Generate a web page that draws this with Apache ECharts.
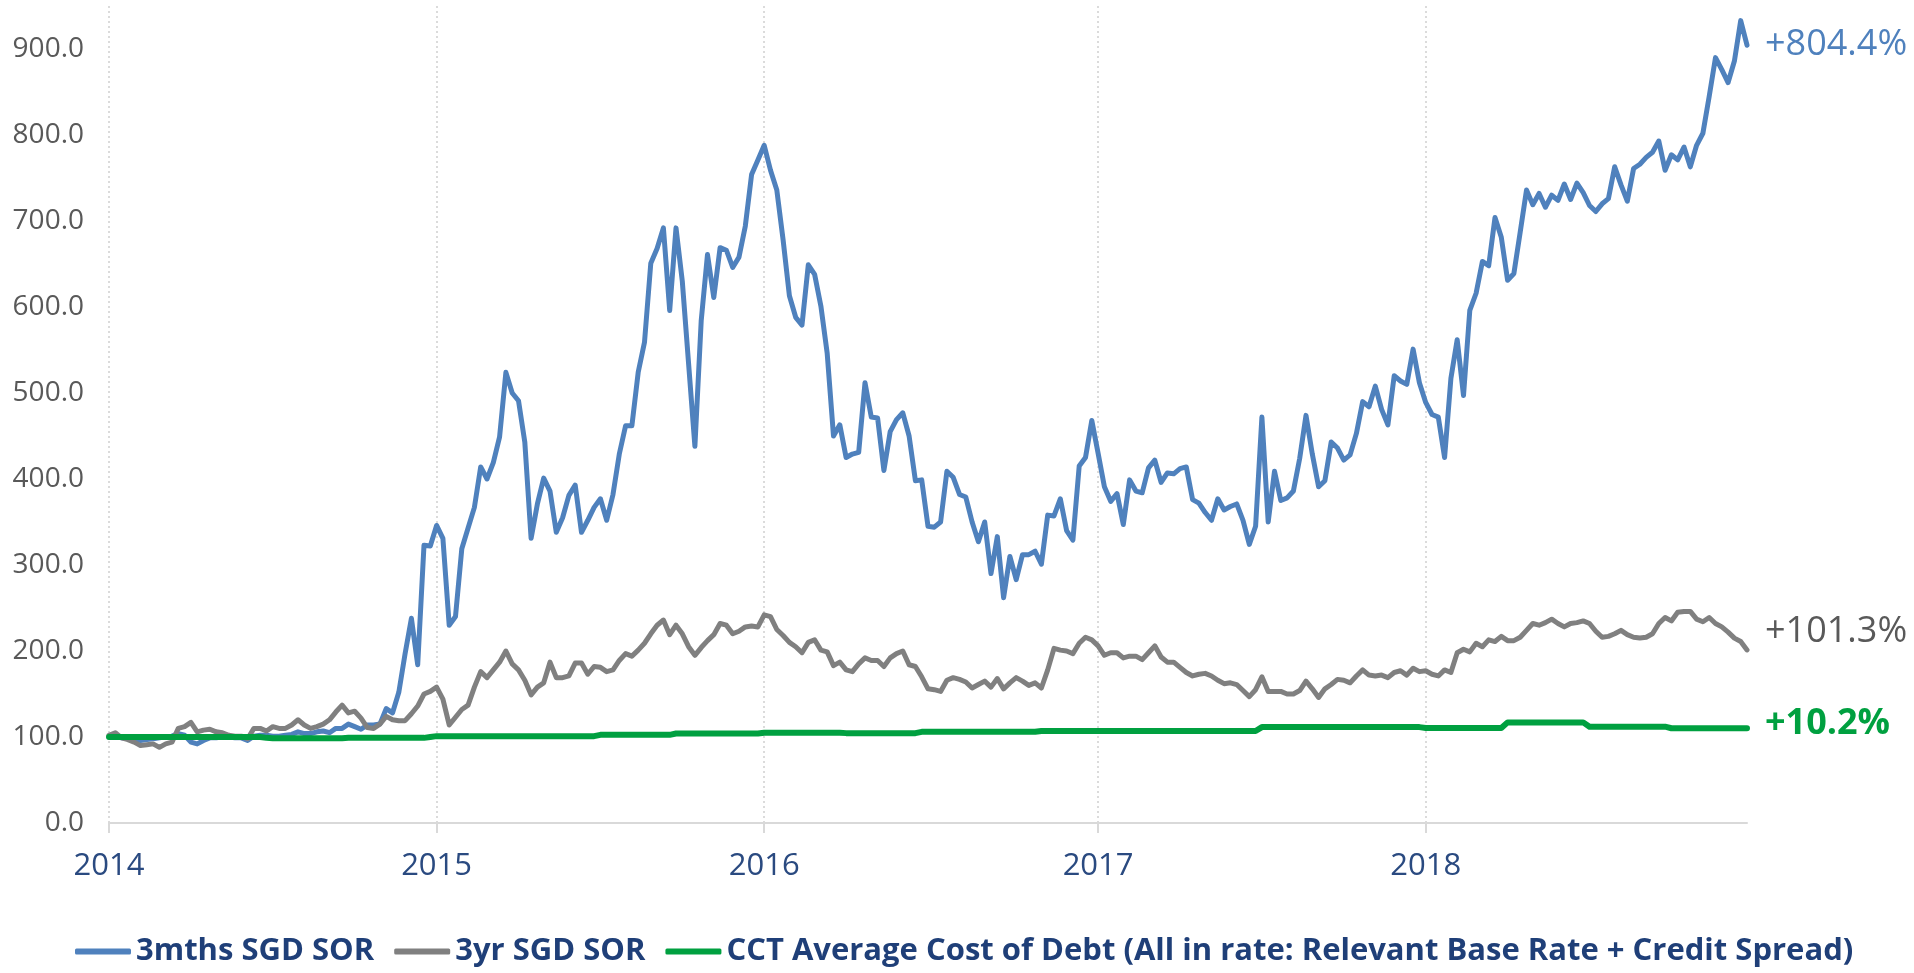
<!DOCTYPE html>
<html>
<head>
<meta charset="utf-8">
<script src="https://cdn.jsdelivr.net/npm/echarts@6/dist/echarts.min.js"></script>
<style>
  html, body { margin: 0; padding: 0; background: #ffffff; }
  #chart { width: 1914px; height: 973px; }
</style>
</head>
<body>
<div id="chart"></div>
<script>
// Weekly observations (Fridays) from 2014-01-03 to 2018-12-28, indexed to 100 at start
const startDate = '2014-01-03';
const yearLabels = ['2014', '2015', '2016', '2017', '2018'];
const seriesNames = ['3mths SGD SOR', '3yr SGD SOR', 'CCT Average Cost of Debt (All in rate: Relevant Base Rate + Credit Spread)'];
const endLabels = ['+804.4%', '+101.3%', '+10.2%'];

const sor3m = [
  100,101,99,98,97,96,97,98,99,100,
  101,104,102,94,92,96,99,99,100,100,
  99,99,96,101,102,102,101,101,102,103,
  106,104,104,106,107,105,110,110,115,112,
  109,114,114,115,133,128,152,197,238,184,
  323,322,
  346,331,230,240,319,343,367,414,400,419,
  449,524,500,491,443,331,371,401,386,338,
  355,381,393,338,352,367,377,352,382,429,
  462,462,524,559,651,668,692,596,692,630,
  534,438,584,661,611,669,666,646,658,694,
  754,771,
  788,759,736,678,613,588,579,649,638,601,
  546,450,463,425,429,431,512,472,471,410,
  455,469,477,450,398,399,345,344,350,409,
  402,382,379,350,327,350,290,333,262,310,
  283,312,312,316,301,358,357,377,340,329,
  415,425,468,
  430,391,374,383,347,399,386,384,413,422,
  396,407,406,412,414,376,372,361,352,377,
  364,368,371,352,324,345,472,350,409,375,
  378,386,424,474,429,391,398,443,436,422,
  428,453,490,484,508,481,463,520,514,510,
  551,512,
  489,475,472,425,517,562,497,596,616,653,
  648,704,681,631,639,687,736,719,732,716,
  730,724,743,725,744,733,718,711,720,726,
  763,742,723,761,766,774,780,793,759,777,
  771,786,763,788,802,845,890,876,861,886,
  933,904.4
];

const sor3y = [
  102,105,99,97,94,90,91,92,88,92,
  94,110,112,117,106,108,109,106,105,102,
  101,101,98,110,110,107,112,110,110,114,
  120,114,110,112,115,120,129,137,128,130,
  122,111,110,115,124,120,119,119,127,136,
  150,153,
  158,144,114,123,132,137,158,176,169,178,
  187,200,185,178,166,149,158,163,187,169,
  169,171,186,186,173,182,181,176,178,189,
  197,194,201,209,220,230,236,219,230,220,
  205,195,204,212,219,232,230,220,223,228,
  229,228,
  242,240,225,218,210,205,198,210,213,201,
  199,183,187,178,176,185,192,189,189,182,
  192,197,200,184,182,170,156,155,153,166,
  169,167,164,157,161,165,158,168,156,163,
  169,165,160,163,157,178,203,201,200,197,
  209,216,213,
  206,195,198,198,192,194,194,190,198,206,
  193,187,187,181,175,171,173,174,171,166,
  162,163,161,154,147,155,170,153,153,153,
  150,150,154,165,156,146,156,161,167,166,
  163,171,178,172,171,172,169,175,177,172,
  180,176,
  177,173,171,178,175,198,202,199,209,205,
  213,211,217,212,212,216,224,232,230,233,
  237,232,228,232,233,235,232,223,216,217,
  220,224,219,216,215,216,220,232,239,235,
  245,246,246,237,234,239,232,228,222,215,
  211,201.3
];

const cctDebt = [
  100,100,100,100,100,100,100,100,100,100,
  100,100,100,100,100,100,100,100,100,100,
  100,100,100,100,100,99,98.5,98.5,98.5,98.5,
  98.5,98.5,98.5,98.5,98.5,98.5,98.5,98.5,99,99,
  99,99,99,99,99,99,99,99,99,99,
  99,100,
  101,101,101,101,101,101,101,101,101,101,
  101,101,101,101,101,101,101,101,101,101,
  101,101,101,101,101,101,102.5,102.5,102.5,102.5,
  102.5,102.5,102.5,102.5,102.5,102.5,102.5,102.5,104,104,
  104,104,104,104,104,104,104,104,104,104,
  104,104,
  105,105,105,105,105,105,105,105,105,105,
  105,105,105,104.5,104.5,104.5,104.5,104.5,104.5,104.5,
  104.5,104.5,104.5,104.5,104.5,106,106,106,106,106,
  106,106,106,106,106,106,106,106,106,106,
  106,106,106,106,107,107,107,107,107,107,
  107,107,107,
  107,107,107,107,107,107,107,107,107,107,
  107,107,107,107,107,107,107,107,107,107,
  107,107,107,107,107,107,111.5,111.5,111.5,111.5,
  111.5,111.5,111.5,111.5,111.5,111.5,111.5,111.5,111.5,111.5,
  111.5,111.5,111.5,111.5,111.5,111.5,111.5,111.5,111.5,111.5,
  111.5,111.5,
  110.5,110.5,110.5,110.5,110.5,110.5,110.5,110.5,110.5,110.5,
  110.5,110.5,110.5,117,117,117,117,117,117,117,
  117,117,117,117,117,117,112,112,112,112,
  112,112,112,112,112,112,112,112,112,110.2,
  110.2,110.2,110.2,110.2,110.2,110.2,110.2,110.2,110.2,110.2,
  110.2,110.2
];

// Category labels: weekly dates
const t0 = Date.parse(startDate + 'T00:00:00Z');
const categories = sor3m.map((_, i) => new Date(t0 + i * 7 * 86400000).toISOString().slice(0, 10));
const isYearStart = (idx) => {
  if (idx === 0) return true;
  return categories[idx].slice(0, 4) !== categories[idx - 1].slice(0, 4) &&
    yearLabels.indexOf(categories[idx].slice(0, 4)) >= 0;
};

const colors = ['#4F81BD', '#808080', '#00A040'];
const labelColors = ['#4F81BD', '#595959', '#00A040'];
const fontFam = '"Open Sans", "Noto Sans", sans-serif';

const chart = echarts.init(document.getElementById('chart'), null, { renderer: 'canvas' });

function endLabel(i, extra) {
  return Object.assign({
    show: true,
    formatter: endLabels[i],
    color: labelColors[i],
    fontFamily: fontFam,
    fontSize: 36,
    distance: 18
  }, extra || {});
}

function makeSeries(i, data, width, label) {
  return {
    name: seriesNames[i],
    type: 'line',
    data: data,
    symbol: 'none',
    showSymbol: false,
    lineStyle: { color: colors[i], width: width, cap: 'round', join: 'round' },
    itemStyle: { color: colors[i] },
    endLabel: label,
    animation: false
  };
}

const option = {
  backgroundColor: '#ffffff',
  animation: false,
  grid: { left: 109, right: 167, top: 6, bottom: 150, containLabel: false },
  legend: {
    left: 75,
    top: 936,
    padding: 0,
    itemWidth: 56,
    itemHeight: 6,
    itemGap: 20,
    icon: 'roundRect',
    textStyle: { color: '#1F3F78', fontSize: 31, fontWeight: 'bold', fontFamily: fontFam },
    data: seriesNames
  },
  xAxis: {
    type: 'category',
    data: categories,
    boundaryGap: false,
    axisLine: { show: true, lineStyle: { color: '#D9D9D9', width: 2 } },
    axisTick: { show: true, length: 10, interval: (idx) => isYearStart(idx), lineStyle: { color: '#D9D9D9', width: 2 } },
    axisLabel: {
      interval: (idx) => isYearStart(idx),
      formatter: (val) => val.slice(0, 4),
      color: '#2A4A80',
      fontSize: 31,
      fontFamily: fontFam,
      margin: 28
    },
    splitLine: {
      show: true,
      interval: (idx) => isYearStart(idx),
      lineStyle: { color: '#CFCFCF', width: 1.5, type: [2, 3] }
    }
  },
  yAxis: {
    type: 'value',
    min: 0,
    max: 950,
    interval: 100,
    axisLine: { show: false },
    axisTick: { show: false },
    splitLine: { show: false },
    axisLabel: {
      showMaxLabel: false,
      formatter: (v) => v.toFixed(1),
      color: '#595959',
      fontSize: 28,
      fontFamily: fontFam,
      margin: 25
    }
  },
  series: [
    makeSeries(0, sor3m, 5, endLabel(0)),
    makeSeries(1, sor3y, 5, endLabel(1, { offset: [0, -18] })),
    makeSeries(2, cctDebt, 6, endLabel(2, { fontWeight: 'bold', offset: [0, -4] }))
  ]
};

chart.setOption(option);
</script>
</body>
</html>
